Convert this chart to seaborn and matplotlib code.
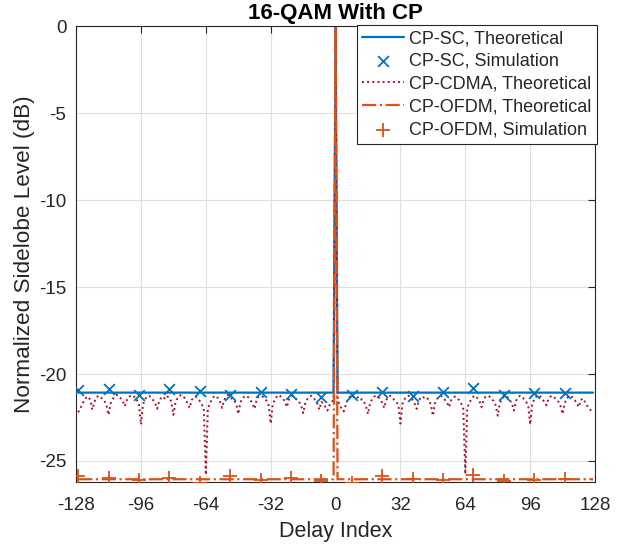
import numpy as np
import pandas as pd
import matplotlib
matplotlib.use('Agg')
import matplotlib.pyplot as plt
import seaborn as sns

# delay axis and levels
delays = np.arange(-127, 128)
sc_level = -21.07       # CP-SC theoretical sidelobe level (dB)
ofdm_level = -26.05     # CP-OFDM theoretical sidelobe level (dB)

# simulation points (every 15th delay)
sim_delays = [-127, -112, -97, -82, -67, -52, -37, -22, -7,
              8, 23, 38, 53, 68, 83, 98, 113]
sc_sim = [-20.90, -20.84, -21.20, -20.88, -21.00, -21.22, -21.04, -21.13, -21.30,
          -21.22, -21.05, -21.27, -21.04, -20.81, -21.22, -21.09, -21.09]
ofdm_sim = [-25.86, -25.99, -26.10, -25.99, -26.24, -25.86, -26.10, -25.95, -26.14,
            -26.24, -25.86, -26.05, -26.10, -25.82, -26.14, -26.10, -26.05]

# CP-CDMA theoretical, delays -127..-1
cdma_left = [
    -22.20, -22.00, -21.75, -21.50, -21.35, -21.30, -21.50,
    -22.05, -21.60, -21.35, -21.25, -21.30, -21.45, -21.55, -21.80,
    -22.35, -21.70, -21.45, -21.30, -21.20, -21.25, -21.40, -21.55,
    -21.85, -21.50, -21.30, -21.25, -21.35, -21.30, -21.50, -21.75,
    -22.90, -21.75, -21.45, -21.30, -21.25, -21.35, -21.50, -21.70,
    -22.00, -21.55, -21.35, -21.30, -21.45, -21.30, -21.35, -21.60,
    -22.35, -21.65, -21.40, -21.25, -21.20, -21.30, -21.45, -21.70,
    -21.95, -21.50, -21.35, -21.30, -21.40, -21.55, -21.75, -22.00,
    -25.80, -22.00, -21.70, -21.45, -21.30, -21.25, -21.40, -21.60,
    -21.95, -21.50, -21.30, -21.20, -21.30, -21.45, -21.50, -21.75,
    -22.30, -21.65, -21.40, -21.30, -21.25, -21.35, -21.50, -21.70,
    -22.00, -21.50, -21.30, -21.25, -21.30, -21.40, -21.55, -21.80,
    -22.85, -21.75, -21.50, -21.30, -21.20, -21.30, -21.40, -21.60,
    -21.90, -21.45, -21.30, -21.25, -21.35, -21.50, -21.60, -21.80,
    -22.25, -21.70, -21.45, -21.30, -21.25, -21.35, -21.50, -21.70,
    -22.05, -21.60, -21.70, -21.90, -22.10, -21.80, -21.60, -21.50,
]
# CP-CDMA theoretical, delays 1..127
cdma_right = [
    -21.50, -21.75, -22.00, -22.15, -21.80, -21.45, -21.30,
    -21.40, -21.30, -21.25, -21.35, -21.50, -21.45, -21.60, -21.85,
    -22.30, -21.70, -21.45, -21.30, -21.25, -21.30, -21.45, -21.65,
    -21.95, -21.50, -21.30, -21.25, -21.35, -21.50, -21.60, -21.80,
    -22.85, -21.70, -21.45, -21.30, -21.25, -21.35, -21.50, -21.70,
    -22.00, -21.55, -21.35, -21.30, -21.40, -21.35, -21.50, -21.75,
    -22.40, -21.70, -21.45, -21.30, -21.25, -21.35, -21.50, -21.65,
    -21.90, -21.50, -21.35, -21.30, -21.40, -21.50, -21.70, -22.00,
    -25.75, -21.95, -21.65, -21.45, -21.30, -21.25, -21.40, -21.55,
    -21.90, -21.50, -21.30, -21.25, -21.30, -21.45, -21.55, -21.80,
    -22.40, -21.70, -21.45, -21.30, -21.25, -21.35, -21.50, -21.70,
    -22.10, -21.55, -21.35, -21.25, -21.30, -21.45, -21.60, -21.80,
    -22.90, -21.75, -21.45, -21.30, -21.20, -21.30, -21.45, -21.60,
    -21.80, -21.45, -21.30, -21.25, -21.35, -21.50, -21.60, -21.85,
    -22.30, -21.70, -21.40, -21.30, -21.25, -21.35, -21.50, -21.70,
    -21.90, -21.50, -21.40, -21.60, -21.80, -21.95, -22.10, -22.25,
]
cdma_theory = np.array(cdma_left + [0.0] + cdma_right)
sc_theory = np.where(delays == 0, 0.0, sc_level)
ofdm_theory = np.where(delays == 0, 0.0, ofdm_level)

xticks = [-128, -96, -64, -32, 0, 32, 64, 96, 128]
yticks = [-25, -20, -15, -10, -5, 0]

# MATLAB default colours
C_BLUE = '#0072BD'
C_ORANGE = '#D95319'
C_RED = '#A2142F'
AX_COLOR = '#262626'

sns.set_style('white')
plt.rcParams['font.family'] = ['Liberation Sans', 'DejaVu Sans']

fig = plt.figure(figsize=(6.29, 5.51), dpi=100)
ax = fig.add_axes([0.121, 0.1255, 0.825, 0.827])

theory = pd.DataFrame({'delay': delays, 'sc': sc_theory,
                       'cdma': cdma_theory, 'ofdm': ofdm_theory})
sim = pd.DataFrame({'delay': sim_delays, 'sc': sc_sim, 'ofdm': ofdm_sim})

sns.lineplot(data=theory, x='delay', y='sc', color=C_BLUE, linewidth=1.6,
             label='CP-SC, Theoretical', ax=ax)
sns.scatterplot(data=sim, x='delay', y='sc', color=C_BLUE, marker='x', s=60,
                linewidth=1.3, label='CP-SC, Simulation', ax=ax, zorder=4)
sns.lineplot(data=theory, x='delay', y='cdma', color=C_RED, linewidth=1.4,
             linestyle=':', label='CP-CDMA, Theoretical', ax=ax)
sns.lineplot(data=theory, x='delay', y='ofdm', color=C_ORANGE, linewidth=1.6,
             linestyle='-.', label='CP-OFDM, Theoretical', ax=ax)
sns.scatterplot(data=sim, x='delay', y='ofdm', color=C_ORANGE, marker='+', s=90,
                linewidth=1.3, label='CP-OFDM, Simulation', ax=ax, zorder=4)

ax.set_xlim(-128, 128)
ax.set_ylim(-26.2, 0)
ax.set_xticks(xticks)
ax.set_xticklabels([str(t) for t in xticks])
ax.set_yticks(yticks)
ax.set_yticklabels([str(t) for t in yticks])
ax.grid(True, color='#dfdfdf', linewidth=0.8)
ax.set_axisbelow(True)
for sp in ax.spines.values():
    sp.set_color(AX_COLOR)
    sp.set_linewidth(0.8)
ax.tick_params(direction='in', length=5, width=0.8, top=True, right=True,
               colors=AX_COLOR, labelsize=13.5)
ax.tick_params(axis='x', pad=11)
ax.tick_params(axis='y', pad=7)

ax.set_xlabel('Delay Index', fontsize=15.5, color=AX_COLOR, labelpad=5)
ax.set_ylabel('Normalized Sidelobe Level (dB)', fontsize=16.2, color=AX_COLOR,
              labelpad=3)
ax.set_title('16-QAM With CP', fontsize=16, fontweight='bold', color='black', pad=5)

leg = ax.legend(loc='upper right', bbox_to_anchor=(1.003, 1.003), fontsize=13,
                frameon=True, fancybox=False, framealpha=1, edgecolor=AX_COLOR,
                borderaxespad=0, labelspacing=0.32, handlelength=2.3,
                handletextpad=0.28, borderpad=0.3)
leg.get_frame().set_linewidth(0.8)

plt.savefig('out.png', dpi=100)
plt.close()
